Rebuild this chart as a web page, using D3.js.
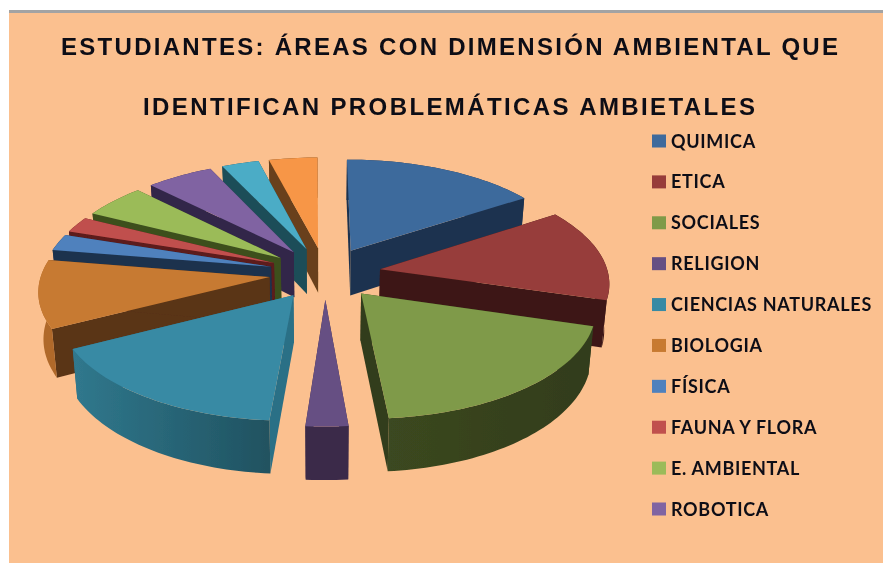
<!DOCTYPE html>
<html><head><meta charset="utf-8">
<script src="https://cdn.jsdelivr.net/npm/d3@7"></script>
<style>html,body{margin:0;padding:0;background:#fff}svg{display:block}</style>
</head><body><svg id="c" width="883" height="563"></svg>
<script>
const titleLines = ["ESTUDIANTES: ÁREAS CON DIMENSIÓN AMBIENTAL QUE", "IDENTIFICAN PROBLEMÁTICAS AMBIETALES"];
const categories = ["QUIMICA","ETICA","SOCIALES","RELIGION","CIENCIAS NATURALES","BIOLOGIA","FÍSICA","FAUNA Y FLORA","E. AMBIENTAL","ROBOTICA"];
// twelve slices are drawn; the legend of the reference only lists the first ten
const values = [15.8, 13.9, 19.0, 2.6, 16.2, 10.2, 2.5, 2.4, 5.1, 5.4, 3.0, 3.9];
const topColors  = ["#3e6a9c","#973c3a","#7f9a48","#664f83","#388aa4","#c77a31","#4f81bd","#c0504d","#9bbb59","#8064a2","#4bacc6","#f79646"];
const wallColors = ["#1e334f","#3e1917","#333d1c","#3b2a49","#2c7086","#5a3416","#1c324e","#5b1a1a","#3d4f1f","#32264a","#1e4e58","#69401a"];
const rimLeft    = ["#1e334f","#3e1917","#3b4820","#3b2a49","#30788d","#b0692a","#1c324e","#5b1a1a","#3d4f1f","#32264a","#1e4e58","#69401a"];
const rimRight   = ["#1e334f","#3e1917","#323c1b","#3b2a49","#205260","#b0692a","#1c324e","#5b1a1a","#3d4f1f","#32264a","#1e4e58","#69401a"];

const svg = d3.select("#c");
const W = 883, H = 563;
svg.append("rect").attr("x",9).attr("y",12).attr("width",W-9).attr("height",H-12).attr("fill","#fbc08f");
svg.append("rect").attr("x",9).attr("y",10).attr("width",W-9).attr("height",3).attr("fill","#a3a3a3");

const defs = svg.append("defs");
defs.append("filter").attr("id","soft").append("feGaussianBlur").attr("stdDeviation",0.45);

// plane units: 1 = pie radius
const sx = d3.scaleLinear().domain([0,1]).range([325,553]);
const sy = d3.scaleLinear().domain([0,1]).range([273,379]);
const persp = 0.113, explode = 0.245, depth = 46, taper = 0.018;
function project(X,Y,z){
  const p = 1/(1-persp*Y);
  const x = sx(X*p*(1-taper*z));
  const y = sy(Y*p) + z*depth*p;
  return [x,y];
}
const arcs = d3.pie().sort(null).value(d=>d).startAngle(-0.006).endAngle(2*Math.PI-0.006)(values);
const line = d3.line();
function planePoint(b,a,r){
  return [Math.sin(b)*explode+Math.sin(a)*r, -Math.cos(b)*explode-Math.cos(a)*r];
}
function rimPts(d,z,rev){
  const b=(d.startAngle+d.endAngle)/2;
  const n=Math.max(6,Math.ceil((d.endAngle-d.startAngle)*40));
  const as=d3.range(n+1).map(i=>d.startAngle+(d.endAngle-d.startAngle)*i/n);
  if(rev) as.reverse();
  return as.map(a=>{const q=planePoint(b,a,1);return project(q[0],q[1],z);});
}
const order = arcs.map((d,i)=>({d,i,key:-Math.cos((d.startAngle+d.endAngle)/2)})).sort((a,b)=>a.key-b.key);
const pie3d = svg.append("g").attr("filter","url(#soft)");
order.forEach(({d,i})=>{
  const gid="rim"+i;
  const g=defs.append("linearGradient").attr("id",gid);
  g.append("stop").attr("offset",0).attr("stop-color",rimLeft[i]);
  g.append("stop").attr("offset",1).attr("stop-color",rimRight[i]);
  const b=(d.startAngle+d.endAngle)/2;
  const q0=planePoint(b,b,0);
  const apexT=project(q0[0],q0[1],0), apexB=project(q0[0],q0[1],1);
  const topRim=rimPts(d,0,false), botRim=rimPts(d,1,true);
  const slice=pie3d.append("g");
  const wall=(a,c)=>{
    const q=planePoint(b,a,1);
    slice.append("path").attr("d",line([apexT,project(q[0],q[1],0),project(q[0],q[1],1),apexB])+"Z").attr("fill",c);
  };
  wall(d.startAngle,wallColors[i]);
  wall(d.endAngle,wallColors[i]);
  slice.append("path").attr("d",line(topRim.concat(botRim))+"Z").attr("fill",`url(#${gid})`);
  slice.append("path").attr("d",line([apexT].concat(topRim))+"Z").attr("fill",topColors[i]);
});

const text = svg.append("g").attr("filter","url(#soft)");
const titleBase=[55,115], titleLeft=[61,143], titleW=[777,612];
titleLines.forEach((t,i)=>{
  text.append("text").attr("x",titleLeft[i]).attr("y",titleBase[i]).attr("textLength",titleW[i]).attr("lengthAdjust","spacing")
    .attr("font-family","'Liberation Sans'").attr("font-weight","bold").attr("font-size",24).attr("fill","#0c0c14").text(t);
});
const ly = d3.scalePoint().domain(categories).range([141,509]);
categories.forEach((c,i)=>{
  svg.append("rect").attr("x",652).attr("y",ly(c)-6.5).attr("width",14).attr("height",13).attr("fill",topColors[i]);
  text.append("text").attr("x",671).attr("y",ly(c)+6.5).attr("font-family","Lato").attr("font-weight","bold").attr("font-size",18).attr("letter-spacing",0.7).attr("fill","#101018").text(c);
});
</script></body></html>
